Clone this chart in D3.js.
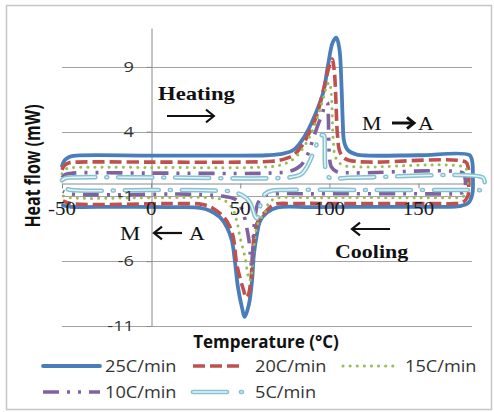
<!DOCTYPE html>
<html><head><meta charset="utf-8">
<script src="https://cdn.jsdelivr.net/npm/d3@7"></script>
<style>body{margin:0;background:#fff}svg{display:block}</style>
</head><body>
<svg id="c" width="494" height="412"></svg>
<script>
// ---------- DATA ----------
const seriesNames = ["25C/min", "20C/min", "15C/min", "10C/min", "5C/min"];
const xTicks = [-50, 0, 50, 100, 150];
const yTicks = [-11, -6, -1, 4, 9];

// [temperature °C, heat flow mW] — heating branch (left→right), then cooling branch (right→left)
const heat25 = [[-50,1.35],[-48.5,1.8],[-46,2.05],[-42,2.15],[0,2.15],[40,2.15],[65,2.18],[74,2.3],[80,2.6],[84,3.2],[88,4.1],[92,5.3],[96.5,7.0],[99.2,9.1],[101.9,10.9],[103.9,11.25],[105.6,10.4],[106.8,7.5],[107.5,4.8],[108.3,3.2],[110.5,2.55],[115,2.25],[122,2.15],[150,2.18],[178.5,2.2],[180,1.8],[180.5,0.5],[180.2,-0.8],[178,-1.5],[173,-1.75]];
const cool25 = [[165,-1.8],[130,-1.8],[90,-1.82],[71,-1.85],[65,-2.25],[61.1,-2.9],[59.4,-3.9],[57.7,-5.4],[56.6,-7.5],[54.9,-9.3],[52.5,-10.3],[51,-9.6],[48.7,-8.0],[47,-6.0],[45.3,-4.4],[42.6,-3.4],[38.6,-2.6],[33,-2.1],[27.5,-1.88],[15,-1.82],[-20,-1.8],[-45,-1.8],[-49.5,-1.7]];

const heat20 = [[-50,1.05],[-48.5,1.4],[-46,1.6],[-42,1.65],[0,1.65],[50,1.65],[68,1.72],[75,1.9],[80,2.2],[85,3.0],[89,4.0],[93,5.3],[96.8,7.3],[99.8,9.0],[101.5,9.6],[102.8,8.6],[103.7,6.2],[104.5,3.8],[106,2.4],[109,1.9],[115,1.7],[125,1.65],[176.5,1.65],[177.8,1.25],[178.2,0],[177.6,-1.0],[175,-1.45],[170,-1.55]];
const cool20 = [[160,-1.55],[110,-1.55],[80,-1.55],[69,-1.62],[64.8,-2.1],[60.1,-2.87],[57.9,-3.9],[57,-5.44],[55.9,-7.5],[54.5,-8.6],[53.3,-8.8],[51.8,-8.2],[50.8,-7.75],[48,-6.2],[46.1,-4.16],[44,-3.3],[40.5,-2.55],[35,-1.95],[29,-1.62],[15,-1.55],[-45,-1.55],[-49.5,-1.35]];

const heat15 = [[-50,0.75],[-48.5,1.05],[-46,1.2],[-42,1.24],[0,1.24],[60,1.25],[72,1.4],[79,1.8],[84,2.5],[88.5,3.5],[92.5,4.8],[96,6.3],[98.8,7.6],[100,7.8],[101,7.0],[101.6,5.2],[102.2,3.3],[103.5,2.0],[107,1.45],[115,1.28],[176,1.24],[177.2,0.85],[177.5,0],[177,-0.75],[174,-1.05],[169,-1.1]];
const cool15 = [[165,-1.1],[90,-1.1],[70,-1.15],[66,-1.5],[63.9,-2.23],[60.1,-3.0],[58.3,-4.16],[57.3,-5.7],[56.3,-7.0],[55.3,-7.5],[54.2,-7.0],[52.7,-5.7],[49.9,-4.16],[48,-2.87],[45.5,-1.9],[41,-1.3],[35,-1.12],[0,-1.1],[-45,-1.1],[-49.5,-0.95]];

const heat10 = [[-50,0.45],[-48,0.7],[-44,0.8],[0,0.8],[70,0.82],[78,0.95],[84,1.4],[88,2.3],[91,3.5],[93.8,4.6],[96,5.4],[97.7,6.1],[98.8,6.25],[99.4,5.2],[99.6,3.5],[100,2.2],[101,1.3],[104,0.92],[112,0.82],[175,0.8],[176,0.5],[176.3,-0.2],[175.5,-0.6],[172,-0.8]];
const cool10 = [[168,-0.8],[90,-0.8],[68,-0.82],[63,-1.0],[60,-1.5],[58.5,-2.4],[57.5,-3.8],[57,-5.2],[56.4,-6.5],[55.7,-5.5],[54.8,-4.3],[53.6,-3.4],[51.5,-2.2],[48,-1.3],[42,-1.02],[35,-0.92],[20,-0.82],[-45,-0.8],[-49.5,-0.6]];

const heat5 = [[-50,0.25],[-48,0.42],[-44,0.47],[0,0.47],[78,0.48],[84,0.7],[87.5,1.3],[90.5,2.2],[93.5,3.2],[95.8,3.75],[97,3.7],[97.4,2.8],[97.5,1.6],[98.2,0.8],[100,0.45],[104,0.38],[110,0.44],[120,0.47],[186,0.47],[187,0.2],[187,-0.25],[186,-0.5]];
const cool5 = [[182,-0.5],[120,-0.5],[75,-0.5],[68,-0.55],[64,-0.8],[62,-1.3],[60.5,-2.2],[59.3,-2.7],[58.2,-2.5],[56.5,-1.8],[54.5,-1.3],[51.5,-0.95],[46,-0.65],[36,-0.55],[0,-0.5],[-45,-0.5],[-50,-0.3]];

const heating = [heat25, heat20, heat15, heat10, heat5];
const cooling = [cool25, cool20, cool15, cool10, cool5];

// ---------- STYLES ----------
const styles = [
  {color:"#4a7ebb", w:3.8, dash:null, cap:"round"},
  {color:"#c0504d", w:3.6, dash:"12,5", cap:"butt"},
  {color:"#9bbb59", w:3.0, dash:"0.1,7", cap:"round"},
  {color:"#7f63a1", w:3.6, dash:"16,8,3,8,3,8", cap:"butt"},
  {color:"#86c1d2", w:4.6, dash:"34,11,1,11", cap:"round", inner:"#e6f4f8"}
];

const svg = d3.select("#c");
const x = d3.scaleLinear().domain([-50, 180]).range([62, 472]);
const y = d3.scaleLinear().domain([-11, 12]).range([326, 28]);

svg.append("rect").attr("x",6.5).attr("y",5.5).attr("width",485).attr("height",404)
  .attr("fill","#fff").attr("stroke","#c6c6c6").attr("stroke-width",1.5);

// gridlines
svg.append("g").selectAll("line").data(yTicks).join("line")
  .attr("x1", x(-50)).attr("x2", x(180))
  .attr("y1", d => Math.round(y(d)) + 0.5).attr("y2", d => Math.round(y(d)) + 0.5)
  .attr("stroke", "#a3a3a3").attr("stroke-width", 1);

// axes (lines + ticks)
const gx = svg.append("g").attr("transform", `translate(0,${Math.round(y(0))+0.5})`)
  .call(d3.axisBottom(x).tickValues(xTicks).tickSize(5).tickSizeOuter(0).tickFormat(""));
const gy = svg.append("g").attr("transform", `translate(${Math.round(x(0))+0.5},0)`)
  .call(d3.axisLeft(y).tickValues(yTicks).tickSize(5).tickSizeOuter(0).tickFormat(""));
[gx, gy].forEach(g => {
  g.select(".domain").attr("stroke", "#8a8a8a");
  g.selectAll(".tick line").attr("stroke", "#8a8a8a");
});

// series
const line = d3.line().x(d => x(d[0])).y(d => y(d[1])).curve(d3.curveCatmullRom.alpha(0.5));
const gs = svg.append("g");
seriesNames.forEach((name, i) => {
  const pts = heating[i].concat(cooling[i]);
  const s = styles[i];
  gs.append("path").attr("d", line(pts)).attr("fill", "none")
    .attr("stroke", s.color).attr("stroke-width", s.w)
    .attr("stroke-dasharray", s.dash).attr("stroke-linecap", s.cap)
    .attr("stroke-linejoin", "round");
  if (s.inner) {
    gs.append("path").attr("d", line(pts)).attr("fill", "none")
      .attr("stroke", s.inner).attr("stroke-width", 1.6)
      .attr("stroke-dasharray", s.dash).attr("stroke-linecap", s.cap)
      .attr("stroke-linejoin", "round");
  }
});

// text helper (horizontally stretched text, like the reference)
function txt(str, tx, ty, o) {
  const t = svg.append("text")
    .attr("transform", `translate(${tx},${ty}) scale(${o.sx||1},1)` + (o.rot ? ` rotate(${o.rot})` : ""))
    .attr("font-family", o.ff || "'Open Sans', sans-serif")
    .attr("font-size", o.fs || 14)
    .attr("font-weight", o.fw || "normal")
    .attr("text-anchor", o.anchor || "start")
    .attr("fill", o.fill || "#262626")
    .text(str);
  if (o.dy) t.attr("dy", o.dy);
  return t;
}

// tick labels
xTicks.forEach(t => txt(String(t), x(t), 215, {ff:"'Liberation Serif', serif", fs:19, sx:1.1, anchor:"middle", fill:"#1a1a1a"}));
yTicks.forEach(v => txt(String(v), 134, y(v), {fs:14, sx:1.3, anchor:"end", dy:"0.36em", fill:"#333"}));

// axis titles
txt("Temperature (°C)", 266, 348, {fs:17, fw:"bold", anchor:"middle", fill:"#111"});
txt("Heat flow (mW)", 40, 166, {fs:16, fw:"bold", anchor:"middle", sx:1.3, rot:-90, fill:"#111"});

// annotations
const serif = "'Liberation Serif', 'Times New Roman', serif";
txt("Heating", 158, 100, {ff:serif, fs:18, fw:"bold", sx:1.26, fill:"#111"});
txt("Cooling", 335, 258, {ff:serif, fs:18, fw:"bold", sx:1.22, fill:"#111"});
txt("M", 362, 130, {ff:serif, fs:19, sx:1.15, fill:"#111"});
txt("A", 418, 130, {ff:serif, fs:19, sx:1.15, fill:"#111"});
txt("M", 120, 240, {ff:serif, fs:19, sx:1.2, fill:"#111"});
txt("A", 189, 240, {ff:serif, fs:19, sx:1.15, fill:"#111"});

function arrow(x1, x2, yy, w, hw) {
  const dir = Math.sign(x2 - x1);
  svg.append("line").attr("x1", x1).attr("x2", x2 - dir*1).attr("y1", yy).attr("y2", yy)
    .attr("stroke", "#111").attr("stroke-width", w);
  svg.append("path").attr("d", `M${x2 - dir*hw},${yy - hw*0.8}L${x2},${yy}L${x2 - dir*hw},${yy + hw*0.8}`)
    .attr("fill", "none").attr("stroke", "#111").attr("stroke-width", w).attr("stroke-linejoin", "miter");
}
arrow(167, 214, 116, 2, 8);
arrow(392, 414, 123, 3, 7);
arrow(182, 154, 233, 2.2, 8);
arrow(390, 352, 229, 2.2, 8);

// legend
const legendPos = [[43,100,105,366],[193,243,255,366],[343,395,405,366],[43,100,105,392],[193,250,255,392]];
seriesNames.forEach((name, i) => {
  const [a, b, tx, ly] = legendPos[i];
  const s = styles[i];
  svg.append("line").attr("x1", a).attr("x2", b).attr("y1", ly).attr("y2", ly)
    .attr("stroke", s.color).attr("stroke-width", s.w)
    .attr("stroke-dasharray", i===4 ? "34,14,1,20" : s.dash).attr("stroke-linecap", s.cap);
  if (s.inner) svg.append("line").attr("x1", a).attr("x2", b).attr("y1", ly).attr("y2", ly)
    .attr("stroke", s.inner).attr("stroke-width", 1.6)
    .attr("stroke-dasharray", "34,14,1,20").attr("stroke-linecap", s.cap);
  txt(name, tx, ly + 6, {fs:17, sx:1.07, fill:"#333"});
});
</script>
</body></html>
